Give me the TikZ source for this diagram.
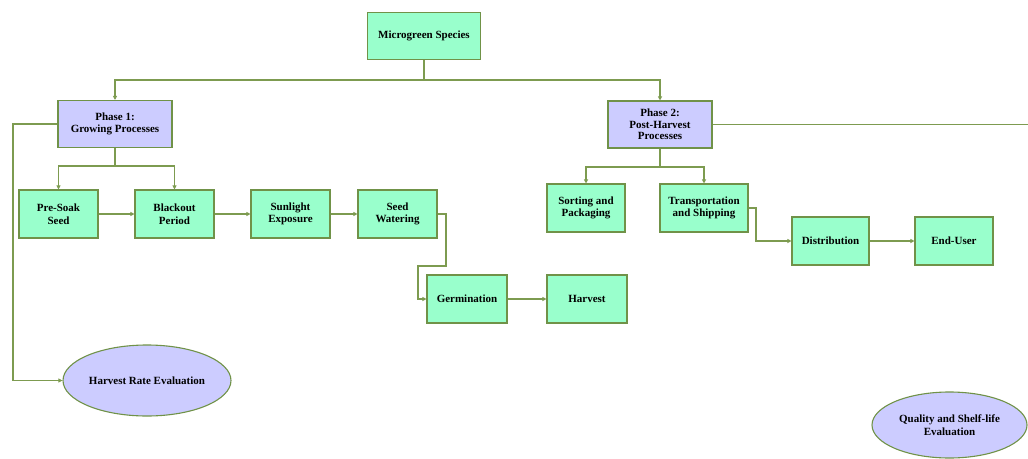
\documentclass[tikz,border=0pt]{standalone}
\usepackage{fontspec}
\setmainfont{Liberation Serif}
\usetikzlibrary{arrows.meta,shapes.geometric}
\definecolor{boxgreen}{RGB}{153,255,204}
\definecolor{boxlav}{RGB}{204,204,255}
\definecolor{edgegreen}{RGB}{112,146,72}
\definecolor{linegreen}{RGB}{125,155,80}
\tikzset{
  base/.style={draw=edgegreen,line width=1.1pt,align=center,inner sep=1pt,
    font=\fontsize{11}{12.5}\selectfont\bfseries},
  gbox/.style={base,rectangle,fill=boxgreen,minimum width=79pt,minimum height=48pt},
  lbox/.style={base,rectangle,fill=boxlav,minimum height=47pt},
  lell/.style={base,ellipse,fill=boxlav},
  conn/.style={draw=linegreen,line width=1.2pt},
  arr/.style={conn,-{Triangle[length=4pt,width=4pt]}}
}
\begin{document}
\begin{tikzpicture}[x=1pt,y=-1pt]
\useasboundingbox (0,0) rectangle (1028,458);
% nodes
\node[gbox,minimum width=113pt,minimum height=47pt] (mg) at (424,36) {Microgreen Species};
\node[lbox,minimum width=114pt] (p1) at (115,124) {Phase 1:\\Growing Processes};
\node[lbox,minimum width=104pt,font=\fontsize{11}{11.5}\selectfont\bfseries] (p2) at (660,124.5) {Phase 2:\\Post-Harvest\\Processes};
\node[gbox] (ps) at (58.5,214) {Pre-Soak\\Seed};
\node[gbox] (bo) at (174.5,214) {Blackout\\Period};
\node[gbox] (su) at (290.5,214) {Sunlight\\Exposure};
\node[gbox] (sw) at (397.5,214) {Seed\\Watering};
\node[gbox,minimum width=80pt] (ge) at (467,299) {Germination};
\node[gbox,minimum width=80pt] (ha) at (587,299) {Harvest};
\node[gbox,minimum width=78pt] (sp) at (586,208) {Sorting and\\Packaging};
\node[gbox,minimum width=88pt] (ts) at (704,208) {Transportation\\and Shipping};
\node[gbox,minimum width=77pt] (di) at (830.5,241) {Distribution};
\node[gbox,minimum width=78pt] (eu) at (954,241) {End-User};
\node[lell,minimum width=168pt,minimum height=71pt] (hr) at (147,380.5) {Harvest Rate Evaluation};
\node[lell,minimum width=155pt,minimum height=66pt] (qs) at (949.5,425) {Quality and Shelf-life\\Evaluation};
% junction coordinates
\coordinate (j0) at (424,80);
\coordinate (l1) at (13,124);
\coordinate (j1) at (115,166);
\coordinate (sw1) at (446,266);
\coordinate (sw2) at (418,266);
\coordinate (j2) at (660,167);
\coordinate (t1) at (756,241);
\coordinate (p2r) at (1028,124.5);
% connectors
\draw[conn] (mg) -- (j0);
\draw[arr] (j0) -| (p1);
\draw[arr] (j0) -| (p2);
\draw[arr] (p1.west) -- (l1) |- (hr.west);
\draw[conn] (p1) -- (j1);
\draw[arr] (j1) -| (ps);
\draw[arr] (j1) -| (bo);
\draw[arr] (ps) -- (bo);
\draw[arr] (bo) -- (su);
\draw[arr] (su) -- (sw);
\draw[arr] (sw.east) -| (sw1) -- (sw2) |- (ge.west);
\draw[arr] (ge) -- (ha);
\draw[conn] (p2.east) -- (p2r);
\draw[conn] (p2) -- (j2);
\draw[arr] (j2) -| (sp);
\draw[arr] (j2) -| (ts);
\draw[arr] (ts.east) -| (t1) -- (di.west);
\draw[arr] (di) -- (eu);
\end{tikzpicture}
\end{document}
